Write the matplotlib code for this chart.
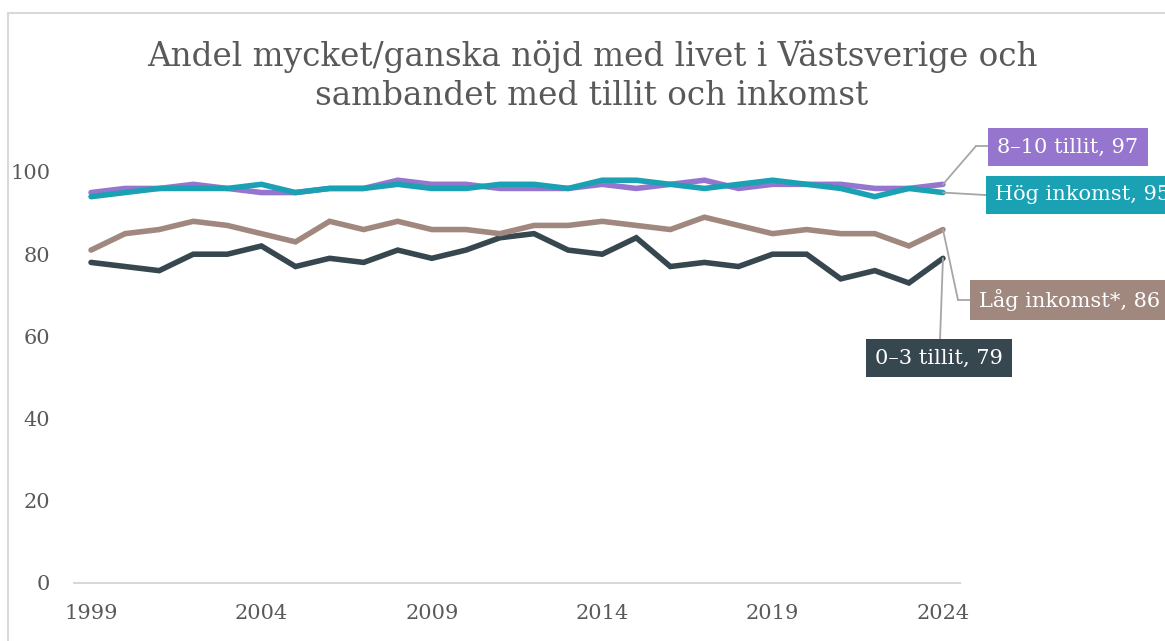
import matplotlib
matplotlib.use("Agg")
import matplotlib.pyplot as plt
from matplotlib.lines import Line2D
from matplotlib.patches import Rectangle

# Data
years = list(range(1999, 2025))
tillit_hog = [95, 96, 96, 97, 96, 95, 95, 96, 96, 98, 97, 97, 96,
              96, 96, 97, 96, 97, 98, 96, 97, 97, 97, 96, 96, 97]
inkomst_hog = [94, 95, 96, 96, 96, 97, 95, 96, 96, 97, 96, 96, 97,
               97, 96, 98, 98, 97, 96, 97, 98, 97, 96, 94, 96, 95]
inkomst_lag = [81, 85, 86, 88, 87, 85, 83, 88, 86, 88, 86, 86, 85,
               87, 87, 88, 87, 86, 89, 87, 85, 86, 85, 85, 82, 86]
tillit_lag = [78, 77, 76, 80, 80, 82, 77, 79, 78, 81, 79, 81, 84,
              85, 81, 80, 84, 77, 78, 77, 80, 80, 74, 76, 73, 79]

xticks = [1999, 2004, 2009, 2014, 2019, 2024]
yticks = [0, 20, 40, 60, 80, 100]

title = "Andel mycket/ganska nöjd med livet i Västsverige och\nsambandet med tillit och inkomst"

C_PURPLE = "#9575CD"
C_TEAL = "#1AA1B4"
C_BROWN = "#A1887F"
C_DARK = "#37474F"
C_TEXT = "#595959"
C_LEAD = "#A6A6A6"

W, H = 1165, 641
plt.rcParams["font.family"] = ["DejaVu Serif"]

fig = plt.figure(figsize=(W / 100, H / 100), dpi=100)
ax = fig.add_axes([74 / W, 1 - 583 / H, (960 - 74) / W, (583 - 172) / H])

# chart border (cut off by the image on the right and bottom)
fig.add_artist(Rectangle((8 / W, -0.1), 1.2, 1 - 13 / H + 0.1, transform=fig.transFigure,
                         fill=False, ec="#D9D9D9", lw=1.5))

series = [
    (tillit_lag, C_DARK, "0–3 tillit"),
    (inkomst_lag, C_BROWN, "Låg inkomst*"),
    (tillit_hog, C_PURPLE, "8–10 tillit"),
    (inkomst_hog, C_TEAL, "Hög inkomst"),
]
for vals, col, _ in series:
    ax.plot(years, vals, color=col, lw=4, solid_capstyle="round", solid_joinstyle="miter")

ax.set_xlim(1998.5, 2024.5)
ax.set_ylim(0, 100)
ax.set_xticks(xticks)
ax.set_yticks(yticks)
ax.tick_params(axis="x", length=0, pad=15, labelsize=15, labelcolor=C_TEXT)
ax.tick_params(axis="y", length=0, pad=17, labelsize=15, labelcolor=C_TEXT)
for s in ("top", "right", "left"):
    ax.spines[s].set_visible(False)
ax.spines["bottom"].set_color("#D9D9D9")
ax.spines["bottom"].set_linewidth(1.5)

fig.text(592 / W, 1 - 76 / H, title, ha="center", va="center", fontsize=23.5,
         color=C_TEXT, linespacing=1.3)

# end labels: (values, colour, name, elbow px, box-left px, box-centre-y px)
labels = [
    (tillit_hog, C_PURPLE, "8–10 tillit", (976, 146), 997, 147),
    (inkomst_hog, C_TEAL, "Hög inkomst", (985, 195), 995, 195),
    (inkomst_lag, C_BROWN, "Låg inkomst*", (958, 300), 979, 300),
    (tillit_lag, C_DARK, "0–3 tillit", (940, 340), 875, 358),
]
for vals, col, name, elbow, tx, ty in labels:
    ex, ey = elbow[0] / W, 1 - elbow[1] / H
    ax.annotate("", xy=(years[-1], vals[-1]), xycoords="data",
                xytext=(ex, ey), textcoords="figure fraction", annotation_clip=False,
                arrowprops=dict(arrowstyle="-", color=C_LEAD, lw=1.3,
                                shrinkA=0, shrinkB=0))
    if tx > elbow[0]:
        fig.add_artist(Line2D([ex, (tx - 9) / W], [ey, ey], transform=fig.transFigure,
                              color=C_LEAD, lw=1.3))
    fig.text(tx / W, 1 - ty / H, f"{name}, {vals[-1]}", ha="left", va="center",
             fontsize=15, color="white",
             bbox=dict(boxstyle="square,pad=0.45", fc=col, ec="none"))

fig.savefig("out.png", dpi=100)
